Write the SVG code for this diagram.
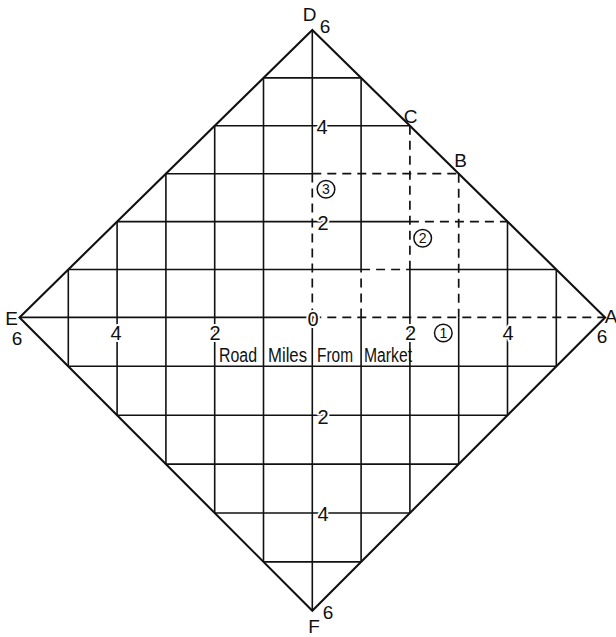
<svg xmlns="http://www.w3.org/2000/svg" width="616" height="637" viewBox="0 0 616 637">
<style>
.g{stroke:#111;stroke-width:1.6;fill:none;stroke-linecap:butt}
.d{stroke:#111;stroke-width:1.7;fill:none;stroke-dasharray:9 6}
.edge{stroke:#111;stroke-width:2.1;fill:none;stroke-linejoin:miter}
text{font-family:"Liberation Sans",Arial,sans-serif;fill:#111}
.n{font-size:20px;text-anchor:middle;stroke:#fff;stroke-width:4;paint-order:stroke;stroke-linejoin:round}
.v{font-size:19px;text-anchor:middle}
.w{font-size:20px}
.c{font-size:14px;text-anchor:middle}
.ring{stroke:#111;stroke-width:1.5;fill:#fff}
</style>
<rect width="616" height="637" fill="#fff"/>
<g id="grid" class="g">
<line x1="68.3" y1="269.5" x2="68.3" y2="366.3"/>
<line x1="117.1" y1="221.6" x2="117.1" y2="415.2"/>
<line x1="165.9" y1="173.7" x2="165.9" y2="464.1"/>
<line x1="214.7" y1="125.8" x2="214.7" y2="513"/>
<line x1="263.5" y1="77.9" x2="263.5" y2="561.9"/>
<line x1="312.3" y1="30" x2="312.3" y2="173.7"/>
<line x1="312.3" y1="317.4" x2="312.3" y2="610.8"/>
<line x1="361.1" y1="77.9" x2="361.1" y2="269.5"/>
<line x1="361.1" y1="317.4" x2="361.1" y2="561.9"/>
<line x1="409.9" y1="269.5" x2="409.9" y2="513"/>
<line x1="458.7" y1="317.4" x2="458.7" y2="464.1"/>
<line x1="507.5" y1="221.6" x2="507.5" y2="415.2"/>
<line x1="556.3" y1="269.5" x2="556.3" y2="366.3"/>
<line x1="263.5" y1="77.9" x2="361.1" y2="77.9"/>
<line x1="214.7" y1="125.8" x2="409.9" y2="125.8"/>
<line x1="165.9" y1="173.7" x2="312.3" y2="173.7"/>
<line x1="117.1" y1="221.6" x2="409.9" y2="221.6"/>
<line x1="68.3" y1="269.5" x2="361.1" y2="269.5"/>
<line x1="409.9" y1="269.5" x2="556.3" y2="269.5"/>
<line x1="19.5" y1="317.4" x2="312.3" y2="317.4"/>
<line x1="68.3" y1="366.3" x2="556.3" y2="366.3"/>
<line x1="117.1" y1="415.2" x2="507.5" y2="415.2"/>
<line x1="165.9" y1="464.1" x2="458.7" y2="464.1"/>
<line x1="214.7" y1="513" x2="409.9" y2="513"/>
<line x1="263.5" y1="561.9" x2="361.1" y2="561.9"/>
</g>
<g id="boundaries" class="d">
<line x1="312.3" y1="317.4" x2="312.3" y2="173.7"/>
<line x1="361.1" y1="317.4" x2="361.1" y2="269.5"/>
<line x1="409.9" y1="125.8" x2="409.9" y2="269.5"/>
<line x1="458.7" y1="173.7" x2="458.7" y2="317.4"/>
<line x1="312.3" y1="173.7" x2="458.7" y2="173.7"/>
<line x1="409.9" y1="221.6" x2="507.5" y2="221.6"/>
<line x1="361.1" y1="269.5" x2="409.9" y2="269.5"/>
<line x1="312.3" y1="317.4" x2="605.1" y2="317.4"/>
</g>
<g id="diamond">
<polygon class="edge" points="312.3,30 605.1,317.4 312.3,610.8 19.5,317.4"/>
</g>
<g id="axis-labels">
<text class="n" x="322" y="134">4</text>
<text class="n" x="323" y="230">2</text>
<text class="n" x="313" y="326">0</text>
<text class="n" x="323" y="424">2</text>
<text class="n" x="323" y="521">4</text>
<text class="n" x="116" y="340">4</text>
<text class="n" x="215" y="340">2</text>
<text class="n" x="410.5" y="340">2</text>
<text class="n" x="508" y="340">4</text>
</g>
<g id="caption">
<text class="w" x="219" y="362" textLength="38" lengthAdjust="spacingAndGlyphs">Road</text>
<text class="w" x="268" y="362" textLength="39" lengthAdjust="spacingAndGlyphs">Miles</text>
<text class="w" x="317" y="362" textLength="36" lengthAdjust="spacingAndGlyphs">From</text>
<text class="w" x="364" y="362" textLength="48" lengthAdjust="spacingAndGlyphs">Market</text>
</g>
<g id="vertex-labels">
<text class="v" x="309.5" y="21">D</text>
<text class="v" x="325" y="33">6</text>
<text class="v" x="11.5" y="325">E</text>
<text class="v" x="17" y="345">6</text>
<text class="v" x="611" y="323">A</text>
<text class="v" x="602" y="343">6</text>
<text class="v" x="314" y="633">F</text>
<text class="v" x="328" y="619">6</text>
<text class="v" x="410.5" y="123">C</text>
<text class="v" x="460.5" y="167">B</text>
</g>
<g id="zone-1">
<circle class="ring" cx="443.3" cy="333" r="8.8"/>
<text class="c" x="443.3" y="338">1</text>
</g>
<g id="zone-2">
<circle class="ring" cx="422.7" cy="238.3" r="8.8"/>
<text class="c" x="422.7" y="243.3">2</text>
</g>
<g id="zone-3">
<circle class="ring" cx="326" cy="189.3" r="8.8"/>
<text class="c" x="326" y="194.3">3</text>
</g>
</svg>
